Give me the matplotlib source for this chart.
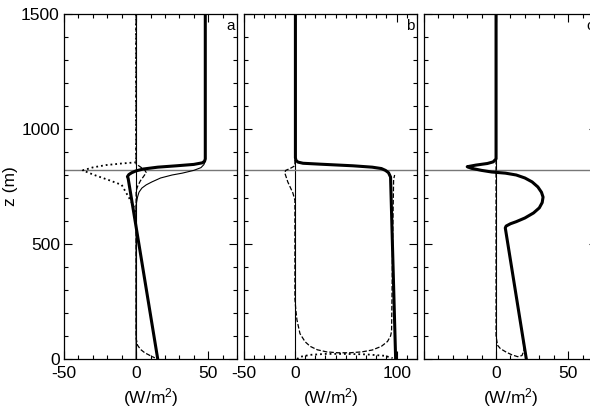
import matplotlib
matplotlib.use("Agg")
import matplotlib.pyplot as plt
from matplotlib.ticker import MultipleLocator, FixedLocator

plt.rcParams['font.family'] = ['Liberation Sans', 'DejaVu Sans']
plt.rcParams['mathtext.default'] = 'regular'
plt.rcParams['font.size'] = 12.5

Z_INV = 820  # inversion height (gray line)

# panel a
a_thick_x = [48, 48, 47.5, 46, 40, 28, 15, 5, 0, -3, -5, -6, -5.5, 15]
a_thick_z = [1500, 870, 860, 853, 846, 840, 834, 826, 818, 810, 802, 793, 785, 0]
a_thin_x = [48, 48, 47, 45, 40, 32, 25, 17, 11, 7, 4, 2, 1, 0, 0]
a_thin_z = [1500, 860, 845, 832, 820, 808, 800, 787, 770, 757, 743, 725, 704, 670, 0]
a_dot_x = [0, 0, -10, -21, -30, -37, -33, -29, -19, -10, -6, -3, 0]
a_dot_z = [1500, 855, 850, 843, 833, 820, 810, 800, 778, 757, 713, 680, 640]
a_dash_x = [0, 0, 3, 6, 7, 5, 3, 1, 0, 0, 1, 3, 6, 10, 13]
a_dash_z = [1500, 848, 835, 822, 810, 792, 775, 750, 730, 90, 60, 42, 27, 14, 5]

# panel b
b_thick_x = [0.5, 0.5, 1, 3, 8, 25, 57, 76, 85, 89, 92, 94, 99]
b_thick_z = [1500, 875, 864, 856, 851, 847, 840, 834, 828, 820, 810, 791, 0]
b_dash_x = [0, 0, -4, -9, -10, -7, -2, 0, 0, 1, 2, 5, 10, 15, 22, 31, 42, 54, 66, 76, 85, 91, 94, 95, 96, 97, 98]
b_dash_z = [1500, 840, 830, 820, 810, 770, 722, 690, 260, 210, 170, 110, 75, 55, 40, 31, 27, 27, 31, 39, 55, 76, 100, 120, 500, 780, 800]
b_dot_x = [2, 6, 15, 30, 50, 70, 88, 96]
b_dot_z = [0, 10, 18, 22, 22, 20, 14, 4]

# panel c
c_thick_x = [0, 0, -2, -6, -14, -20, -17, -10, -3, 6.5, 14, 20, 25, 29, 31.5, 32.6, 32, 30, 26, 20, 14, 10, 7, 6.4, 21]
c_thick_z = [1500, 870, 857, 850, 843, 836, 829, 820, 813, 808, 800, 787, 770, 748, 725, 704, 680, 657, 635, 613, 597, 588, 578, 570, 0]
c_dash_x = [0, 0, 1, 3, 7, 11, 15, 18, 19.5, 18.5, 17.5]
c_dash_z = [1500, 100, 60, 45, 30, 18, 10, 15, 40, 96, 140]

panels = [
    dict(label='a', xlim=(-50, 70), ticks=[-50, 0, 50], ticklabels=['-50', '0', '50'],
         lines=[(a_thick_x, a_thick_z, '-', 2.2), (a_thin_x, a_thin_z, '-', 0.8),
                (a_dot_x, a_dot_z, ':', 1.3), (a_dash_x, a_dash_z, '--', 0.9)]),
    dict(label='b', xlim=(-50, 120), ticks=[-50, 0, 100], ticklabels=['-50', '0', '100'],
         lines=[(b_thick_x, b_thick_z, '-', 2.2), (b_dash_x, b_dash_z, '--', 0.9),
                (b_dot_x, b_dot_z, ':', 1.3)]),
    dict(label='c', xlim=(-50, 70), ticks=[-50, 0, 50], ticklabels=['', '0', '50'],
         lines=[(c_thick_x, c_thick_z, '-', 2.2), (c_dash_x, c_dash_z, '--', 0.9)]),
]

fig = plt.figure(figsize=(5.9, 4.13), dpi=100)
lefts = [0.1085, 0.4136, 0.7186]

for i, p in enumerate(panels):
    ax = fig.add_axes([lefts[i], 0.1308, 0.2932, 0.8353])
    ax.axvline(0, color='black', lw=0.8)
    ax.axhline(Z_INV, color='#777777', lw=1.0)
    for x, z, ls, lw in p['lines']:
        ax.plot(x, z, color='black', ls=ls, lw=lw, solid_joinstyle='round')
    ax.set_xlim(*p['xlim'])
    ax.set_ylim(0, 1500)
    ax.xaxis.set_major_locator(FixedLocator(p['ticks']))
    ax.set_xticklabels(p['ticklabels'])
    ax.xaxis.set_minor_locator(MultipleLocator(10))
    ax.yaxis.set_major_locator(MultipleLocator(500))
    ax.yaxis.set_minor_locator(MultipleLocator(100))
    ax.tick_params(which='both', direction='in', top=True, right=True, width=0.8)
    ax.tick_params(which='major', length=6)
    ax.tick_params(axis='x', which='major', pad=5)
    ax.tick_params(axis='y', which='major', pad=3)
    ax.tick_params(which='minor', length=3)
    for s in ax.spines.values():
        s.set_linewidth(0.9)
    if i > 0:
        ax.set_yticklabels([])
    else:
        ax.set_ylabel('z (m)', labelpad=2)
    ax.set_xlabel('(W/m$^2$)', labelpad=4)
    ax.text(0.985, 0.985, p['label'], transform=ax.transAxes, ha='right', va='top', fontsize=11)

fig.savefig('out.png', dpi=100)
